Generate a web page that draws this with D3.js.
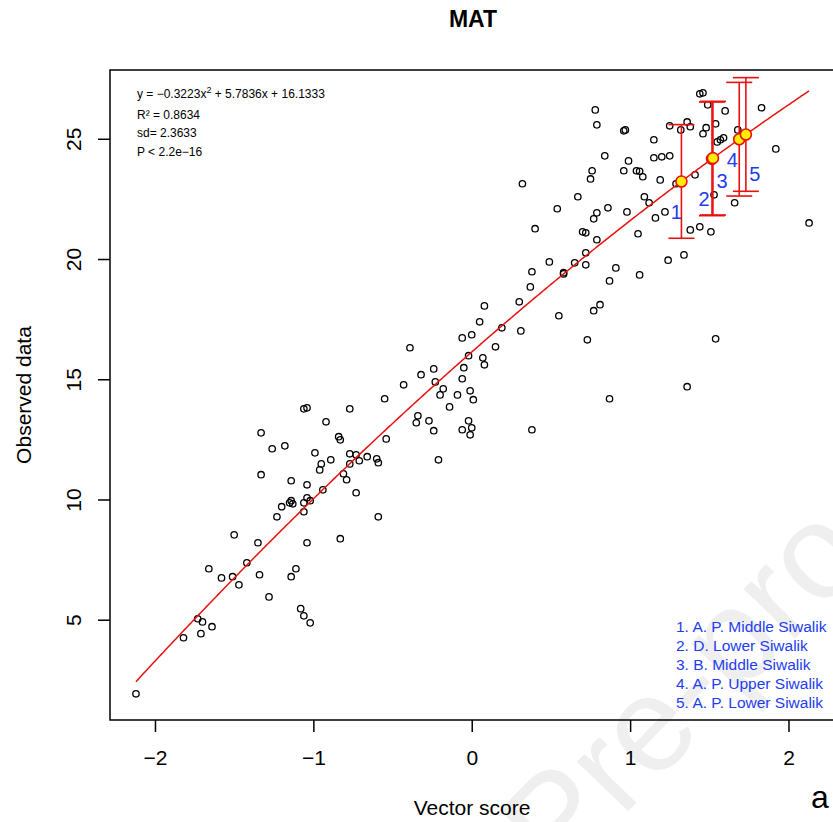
<!DOCTYPE html>
<html>
<head>
<meta charset="UTF-8">
<title>MAT</title>
<script src="https://cdn.jsdelivr.net/npm/d3@7"></script>
<style type="text/css">
body { margin: 0; background: #fff; }
svg { display: block; font-family: "Liberation Sans", Arial, sans-serif; }
</style>
</head>
<body>
<div class="chart"></div>
<script>
// observed points (vector score, observed MAT)
var vectorScore = [
  -1.06, -1.04, -0.77, -0.92, -1.33, -0.84, -0.83, -1.26, -1.18, -0.99,
  -0.77, -0.73, -0.66, -0.60, -0.59, -0.95, -0.96, -0.89, -0.71, -0.77,
  -0.81, -0.79, -1.33, -1.14, -1.04, -0.94, -0.73, -1.14, -1.13, -1.15,
  -1.04, -1.02, -1.06, -1.20, -1.06, -1.23, -0.59, -1.50, -1.35, -1.04,
  -0.83, -1.42, -1.66, -1.58, -1.51, -1.47, -1.34, -1.11, -1.14, -1.28,
  -1.08, -1.06, -1.02, -1.73, -1.70, -1.64, -1.71, -1.82, -2.12,
  0.78, 0.79, 0.96, 0.97, 0.84, 0.99, 0.76, 0.75, 0.96, 1.04,
  1.06, 1.08, 0.32, 0.67, 1.09, 1.12, 0.54, 0.86, 0.79, 0.77,
  0.98, 0.40, 0.70, 0.72, 0.79, 1.05, 0.72, 0.65, 0.72, 0.49,
  0.38, 0.58, 0.58, 0.91, 1.06, 0.87, 0.37, 0.30, 0.08, 0.81,
  0.77, 0.55, 0.05, 0.19, -0.06, 0.00, 0.31, 0.73, -0.39, 0.15,
  -0.02, 0.07, 0.08, -0.24, -0.32, -0.05, -0.43, -0.23, -0.06, -0.18,
  -0.20, -0.09, -0.01, 0.01, -0.55, -0.14, -0.34, -0.35, -0.27, -0.24,
  -0.02, 0.00, -0.06, -0.01, 0.38, 0.87, -0.54, -0.21,
  1.44, 1.46, 1.49, 1.60, 1.83, 1.36, 1.38, 1.32, 1.25, 1.54,
  1.48, 1.46, 1.55, 1.57, 1.59, 1.68, 1.15, 1.15, 1.20, 1.25,
  1.19, 1.41, 1.29, 1.53, 1.66, 1.22, 1.16, 1.38, 1.44, 1.51,
  2.13, 1.92, 1.34, 1.24, 1.54, 1.36
];
var observedMAT = [
  13.77, 13.81, 13.77, 13.23, 12.77, 12.61, 12.48, 12.11, 12.23, 11.94,
  11.90, 11.86, 11.78, 11.69, 11.53, 11.48, 11.23, 11.65, 11.61, 11.48,
  11.07, 10.82, 11.03, 10.78, 10.61, 10.40, 10.28, 9.95, 9.82, 9.86,
  10.07, 9.95, 9.86, 9.70, 9.49, 9.28, 9.28, 8.53, 8.20, 8.20,
  8.37, 7.37, 7.12, 6.74, 6.79, 6.45, 6.87, 7.12, 6.79, 5.95,
  5.46, 5.16, 4.87, 5.04, 4.91, 4.71, 4.42, 4.25, 1.92,
  26.20, 25.58, 25.33, 25.37, 24.29, 24.08, 23.67, 23.33, 23.67, 23.67,
  23.65, 23.42, 23.13, 22.59, 22.59, 22.34, 22.09, 22.13, 21.92, 21.67,
  21.96, 21.26, 21.13, 21.09, 20.80, 21.05, 20.26, 19.84, 19.76, 19.88,
  19.47, 19.43, 19.38, 19.63, 19.34, 19.09, 18.84, 18.22, 18.05, 18.10,
  17.85, 17.64, 17.39, 17.14, 16.72, 16.85, 17.01, 16.64, 16.31, 16.35,
  15.98, 15.89, 15.60, 15.43, 15.19, 15.48, 14.77, 14.89, 15.02, 14.60,
  14.35, 14.35, 14.52, 14.15, 14.19, 13.85, 13.48, 13.19, 13.27, 12.86,
  13.27, 12.98, 12.90, 12.69, 12.90, 14.19, 12.52, 11.65,
  26.87, 26.91, 26.41, 26.16, 26.29, 25.70, 25.50, 25.37, 25.54, 25.62,
  25.46, 25.21, 24.87, 24.96, 25.04, 25.37, 24.96, 24.21, 24.25, 24.29,
  23.29, 23.50, 23.13, 22.67, 22.34, 21.96, 21.71, 21.21, 21.34, 21.13,
  21.50, 24.58, 20.17, 19.95, 16.68, 14.69
];

// quadratic fit y = a x^2 + b x + c, and its sd
var fitCoef = [-0.3223, 5.7836, 16.1333];
var fitSd = 2.3633;
var statLines = ["R\u00b2 = 0.8634", "sd= 2.3633", "P < 2.2e\u221216"];

// fossil sites placed on the fit
var siteNames = ["A. P. Middle Siwalik", "D. Lower Siwalik", "B. Middle Siwalik",
                 "A. P. Upper Siwalik", "A. P. Lower Siwalik"];
var siteScores = [1.324, 1.517, 1.523, 1.689, 1.731];

var xTicks = [-2, -1, 0, 1, 2];
var yTicks = [5, 10, 15, 20, 25];

// label nudges in px (dx, dy from the site point)
var labelNudge = [[-5, 31], [-8, 40], [9, 23], [-7, 21], [9, 40]];

var blue = "#1e3cf0";

var svg = d3.select(".chart").append("svg")
    .attr("width", 833)
    .attr("height", 822);

var x = d3.scaleLinear().domain([-2.284, 2.30]).range([110, 836]);
var y = d3.scaleLinear().domain([0.83, 27.86]).range([720, 70]);

function fit(v) {
    return fitCoef[0] * v * v + fitCoef[1] * v + fitCoef[2];
}

// watermark
svg.append("text")
    .attr("transform", "translate(950,478) rotate(-46)")
    .attr("text-anchor", "end")
    .attr("font-size", 135)
    .attr("fill", "#efefef")
    .text("Journal Pre-proof");

// title
svg.append("text")
    .attr("x", 473).attr("y", 27)
    .attr("text-anchor", "middle")
    .attr("font-size", 23)
    .attr("font-weight", "bold")
    .text("MAT");

// axes
var xAxis = svg.append("g")
    .attr("transform", "translate(0,720)")
    .call(d3.axisBottom(x).tickValues(xTicks).tickFormat(d3.format("d"))
        .tickSize(12).tickPadding(18));
xAxis.select(".domain").remove();
xAxis.selectAll("line").attr("stroke-width", 1.5);
xAxis.selectAll("text").attr("font-size", 21).attr("font-family", null);

var yAxis = svg.append("g")
    .attr("transform", "translate(110,0)")
    .call(d3.axisLeft(y).tickValues(yTicks).tickFormat(d3.format("d")).tickSize(12));
yAxis.select(".domain").remove();
yAxis.selectAll("line").attr("stroke-width", 1.5);
yAxis.selectAll("text")
    .attr("font-size", 21).attr("font-family", null)
    .attr("x", null).attr("dy", null)
    .attr("text-anchor", "middle")
    .attr("transform", "translate(-29,0) rotate(-90)");

svg.append("rect")
    .attr("x", 110).attr("y", 70)
    .attr("width", 726).attr("height", 650)
    .attr("fill", "none")
    .attr("stroke", "#000")
    .attr("stroke-width", 1.5);

svg.append("text")
    .attr("x", 472).attr("y", 815)
    .attr("text-anchor", "middle")
    .attr("font-size", 21)
    .text("Vector score");

svg.append("text")
    .attr("transform", "translate(31,395) rotate(-90)")
    .attr("text-anchor", "middle")
    .attr("font-size", 21)
    .text("Observed data");

svg.append("text")
    .attr("x", 820).attr("y", 808)
    .attr("text-anchor", "middle")
    .attr("font-size", 32)
    .text("a");

// points
var pts = d3.zip(vectorScore, observedMAT);
svg.append("g").selectAll("circle")
    .data(pts)
    .enter()
    .append("circle")
    .attr("cx", function (d) { return x(d[0]); })
    .attr("cy", function (d) { return y(d[1]); })
    .attr("r", 3.2)
    .attr("fill", "none")
    .attr("stroke", "#000")
    .attr("stroke-width", 1.3);

// fitted curve
var xs = d3.extent(vectorScore);
var curve = d3.range(xs[0], xs[1] + 0.005, 0.01).map(function (v) { return [v, fit(v)]; });
svg.append("path")
    .datum(curve)
    .attr("fill", "none")
    .attr("stroke", "#e8110f")
    .attr("stroke-width", 1.5)
    .attr("d", d3.line()
        .x(function (d) { return x(d[0]); })
        .y(function (d) { return y(d[1]); }));

// error bars (fit +- sd)
var bars = svg.append("g").attr("stroke", "#e8110f").attr("stroke-width", 1.6);
siteScores.forEach(function (s) {
    var cx = x(s), top = y(fit(s) + fitSd), bot = y(fit(s) - fitSd);
    bars.append("line").attr("x1", cx).attr("x2", cx).attr("y1", top).attr("y2", bot);
    bars.append("line").attr("x1", cx - 13).attr("x2", cx + 13).attr("y1", top).attr("y2", top);
    bars.append("line").attr("x1", cx - 13).attr("x2", cx + 13).attr("y1", bot).attr("y2", bot);
});

svg.append("g").selectAll("circle")
    .data(siteScores)
    .enter()
    .append("circle")
    .attr("cx", function (d) { return x(d); })
    .attr("cy", function (d) { return y(fit(d)); })
    .attr("r", 5.5)
    .attr("fill", "#ffee00")
    .attr("stroke", "#e8110f")
    .attr("stroke-width", 1.6);

svg.append("g").selectAll("text")
    .data(siteScores)
    .enter()
    .append("text")
    .attr("x", function (d, i) { return x(d) + labelNudge[i][0]; })
    .attr("y", function (d, i) { return y(fit(d)) + labelNudge[i][1] + 7; })
    .attr("text-anchor", "middle")
    .attr("font-size", 20)
    .attr("fill", blue)
    .text(function (d, i) { return i + 1; });

// legend
svg.append("g").selectAll("text")
    .data(siteNames)
    .enter()
    .append("text")
    .attr("x", 676)
    .attr("y", function (d, i) { return 632 + i * 19; })
    .attr("font-size", 15.5)
    .attr("fill", blue)
    .text(function (d, i) { return (i + 1) + ". " + d; });

// equation block
var eq = svg.append("text")
    .attr("x", 137).attr("y", 98)
    .attr("font-size", 12);
eq.append("tspan").text("y = \u2212" + Math.abs(fitCoef[0]).toFixed(4) + "x");
eq.append("tspan").attr("dy", -5).attr("font-size", 9).text("2");
eq.append("tspan").attr("dy", 5).text(" + " + fitCoef[1].toFixed(4) + "x + " + fitCoef[2].toFixed(4));

svg.append("g").selectAll("text")
    .data(statLines)
    .enter()
    .append("text")
    .attr("x", 137)
    .attr("y", function (d, i) { return [119, 137, 156][i]; })
    .attr("font-size", 12)
    .text(function (d) { return d; });
</script>
</body>
</html>
